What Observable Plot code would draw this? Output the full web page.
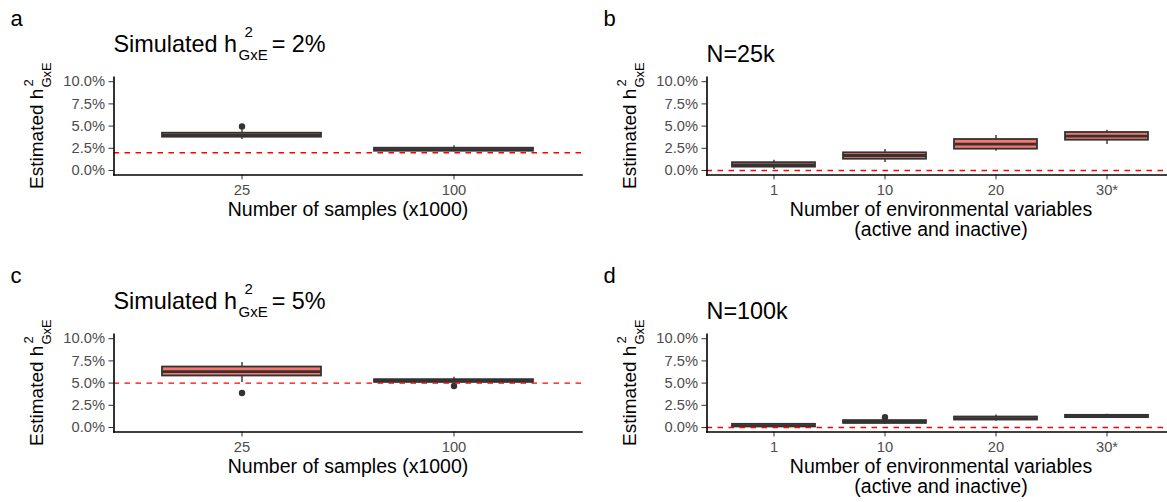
<!DOCTYPE html>
<html><head><meta charset="utf-8">
<script src="https://cdn.jsdelivr.net/npm/d3@7"></script>
<script src="https://cdn.jsdelivr.net/npm/@observablehq/plot@0.6"></script>
<style>
html,body{margin:0;padding:0;background:#fff;}
body{width:1167px;height:502px;overflow:hidden;position:relative;font-family:"Liberation Sans",Arial,sans-serif;}
.panel{position:absolute;}
</style></head><body>
<script>
// ---- data (values in %) ----
const samplesCats = ["25", "100"];
const envCats = ["1", "10", "20", "30*"];
const yTicks = [0, 2.5, 5, 7.5, 10];

// panel a: simulated 2%
const aLo  = [3.50, 2.10];
const aQ1  = [3.75, 2.17];
const aMed = [3.98, 2.35];
const aQ3  = [4.20, 2.51];
const aHi  = [4.55, 2.78];
const aOutCats = ["25"];
const aOutVals = [4.95];
const aRef = 2;

// panel b: N=25k
const bLo  = [0.10, 0.90, 2.17, 2.93];
const bQ1  = [0.38, 1.27, 2.40, 3.41];
const bMed = [0.62, 1.69, 2.96, 3.86];
const bQ3  = [0.88, 1.99, 3.49, 4.28];
const bHi  = [1.15, 2.36, 3.94, 4.54];
const bOutCats = [];
const bOutVals = [];
const bRef = 0;

// panel c: simulated 5%
const cLo  = [5.06, 5.00];
const cQ1  = [5.80, 5.09];
const cMed = [6.29, 5.22];
const cQ3  = [6.81, 5.39];
const cHi  = [7.31, 5.65];
const cOutCats = ["25", "100"];
const cOutVals = [3.89, 4.67];
const cRef = 5;

// panel d: N=100k
const dLo  = [0.02, 0.35, 0.70, 1.05];
const dQ1  = [0.06, 0.47, 0.84, 1.11];
const dMed = [0.20, 0.62, 1.00, 1.24];
const dQ3  = [0.36, 0.78, 1.18, 1.37];
const dHi  = [0.45, 0.92, 1.41, 1.50];
const dOutCats = ["10"];
const dOutVals = [1.15];
const dRef = 0;

const tags = ["a", "b", "c", "d"];
const xTitleSamples = "Number of samples (x1000)";
const xTitleEnv = "Number of environmental variables\n(active and inactive)";
const yTitle = {pre: "Estimated h", sup: "2", sub: "GxE"};
const simTitles = ["= 2%", "= 5%"];
const nTitles = ["N=25k", "N=100k"];

// ---- drawing ----
const FONT = '"Liberation Sans", Arial, sans-serif';
const canvas = document.createElement("canvas");
const ctx = canvas.getContext("2d");
function measure(t, size) { ctx.font = `${size}px "Liberation Sans"`; return ctx.measureText(t).width; }

function rich(parent, o) {
  const wPre = measure(o.pre, o.size), wSub = measure(o.sub, o.subSize), wSup = measure(o.sup, o.subSize);
  const wPost = o.post ? measure(o.post, o.size) : 0;
  const subX = wPre + o.gap;
  const supX = subX + o.supDx;
  const endSS = subX + Math.max(wSub, o.supDx + wSup);
  const postX = endSS + o.gap2;
  const total = o.post ? postX + wPost : endSS;
  const x0 = o.center ? -total / 2 : 0;
  const t = parent.append("text").attr("transform", o.transform).attr("fill", "#000")
    .attr("text-anchor", "start").style("font-family", FONT);
  t.append("tspan").attr("x", x0).attr("y", 0).attr("font-size", o.size).text(o.pre);
  t.append("tspan").attr("x", x0 + subX).attr("y", o.subDy).attr("font-size", o.subSize).text(o.sub);
  t.append("tspan").attr("x", x0 + supX).attr("y", -o.supDy).attr("font-size", o.subSize).text(o.sup);
  if (o.post) t.append("tspan").attr("x", x0 + postX).attr("y", 0).attr("font-size", o.size).text(o.post);
}

const W = 593, FRAME_TOP = 76.76, FRAME_BOT = 174.44, ML = 113.5, MR = 11.5;

function makePanel(cfg) {
  const rows = cfg.cats.map((c, i) => ({cat: c, lo: cfg.lo[i], q1: cfg.q1[i], med: cfg.med[i], q3: cfg.q3[i], hi: cfg.hi[i]}));
  const outs = cfg.outCats.map((c, i) => ({cat: c, v: cfg.outVals[i]}));
  const svg = Plot.plot({
    width: W, height: cfg.height,
    marginLeft: ML, marginRight: MR, marginTop: FRAME_TOP, marginBottom: cfg.height - FRAME_BOT,
    style: {fontFamily: FONT, fontSize: "14.7px", background: "transparent", overflow: "visible"},
    x: {type: "band", domain: cfg.cats, paddingInner: 0.25, paddingOuter: 0.225, align: 0.5, axis: null},
    y: {domain: [-0.5, 10.5], axis: null},
    marks: [
      Plot.ruleX(rows, {x: "cat", y1: "lo", y2: "q1", stroke: "#333", strokeWidth: 1.4}),
      Plot.ruleX(rows, {x: "cat", y1: "q3", y2: "hi", stroke: "#333", strokeWidth: 1.4}),
      Plot.barY(rows, {x: "cat", y1: "q1", y2: "q3", fill: "#F8766D", stroke: "#333", strokeWidth: 1.8}),
      Plot.tickY(rows, {x: "cat", y: "med", stroke: "#333", strokeWidth: 2.8}),
      Plot.dot(outs, {x: "cat", y: "v", r: 3.2, fill: "#333", stroke: null}),
      Plot.ruleY([cfg.ref], {stroke: "#FF0000", strokeWidth: 1.4, strokeDasharray: "5.5,5.5"}),
      Plot.axisX({tickSize: 5, tickPadding: 5, fontSize: 14.7, stroke: "#333", fill: "#4D4D4D", label: null}),
      Plot.axisY({ticks: yTicks, tickFormat: d => d.toFixed(1) + "%", tickSize: 5, tickPadding: 4, fontSize: 14.7, stroke: "#333", fill: "#4D4D4D", label: null}),
      Plot.frame({anchor: "left", stroke: "#000", strokeWidth: 1.6}),
      Plot.frame({anchor: "bottom", stroke: "#000", strokeWidth: 1.6}),
      Plot.text([cfg.xTitle], {text: d => d, frameAnchor: "bottom", dy: cfg.xTitleDy, fontSize: 19.5, fill: "#000", lineHeight: 1.03, lineAnchor: "middle"})
    ]
  });
  svg.classList.add("panel");
  svg.style.left = cfg.left + "px";
  svg.style.top = cfg.top + "px";
  document.body.appendChild(svg);
  const s = d3.select(svg);
  // panel tag
  s.append("text").attr("x", 10.5).attr("y", 25.5).attr("font-size", 22).attr("fill", "#000")
    .attr("text-anchor", "start").style("font-family", FONT).text(cfg.tag);
  // y title
  rich(s, {transform: `translate(42.7,${(FRAME_TOP + FRAME_BOT) / 2}) rotate(-90)`, center: true,
    pre: yTitle.pre, sub: yTitle.sub, sup: yTitle.sup, size: 19, subSize: 13, subDy: 8, supDy: 9.7, supDx: 1, gap: 1});
  // title
  if (cfg.simPost) {
    rich(s, {transform: `translate(${ML},52)`, pre: "Simulated h", sub: yTitle.sub, sup: yTitle.sup, post: cfg.simPost,
      size: 23.4, subSize: 15, subDy: 8, supDy: 15, supDx: 6, gap: 1.5, gap2: 4});
  } else {
    s.append("text").attr("x", ML).attr("y", 61.5).attr("font-size", 23.4).attr("fill", "#000")
      .attr("text-anchor", "start").style("font-family", FONT).text(cfg.nTitle);
  }
}

makePanel({tag: tags[0], left: 0, top: 0, height: 251, cats: samplesCats, lo: aLo, q1: aQ1, med: aMed, q3: aQ3, hi: aHi,
  outCats: aOutCats, outVals: aOutVals, ref: aRef, xTitle: xTitleSamples, xTitleDy: 35, simPost: simTitles[0]});
makePanel({tag: tags[1], left: 593, top: 0, height: 251, cats: envCats, lo: bLo, q1: bQ1, med: bMed, q3: bQ3, hi: bHi,
  outCats: bOutCats, outVals: bOutVals, ref: bRef, xTitle: xTitleEnv, xTitleDy: 44.5, nTitle: nTitles[0]});
makePanel({tag: tags[2], left: 0, top: 257.2, height: 245, cats: samplesCats, lo: cLo, q1: cQ1, med: cMed, q3: cQ3, hi: cHi,
  outCats: cOutCats, outVals: cOutVals, ref: cRef, xTitle: xTitleSamples, xTitleDy: 35, simPost: simTitles[1]});
makePanel({tag: tags[3], left: 593, top: 257.2, height: 245, cats: envCats, lo: dLo, q1: dQ1, med: dMed, q3: dQ3, hi: dHi,
  outCats: dOutCats, outVals: dOutVals, ref: dRef, xTitle: xTitleEnv, xTitleDy: 44.5, nTitle: nTitles[1]});
</script>
</body></html>
